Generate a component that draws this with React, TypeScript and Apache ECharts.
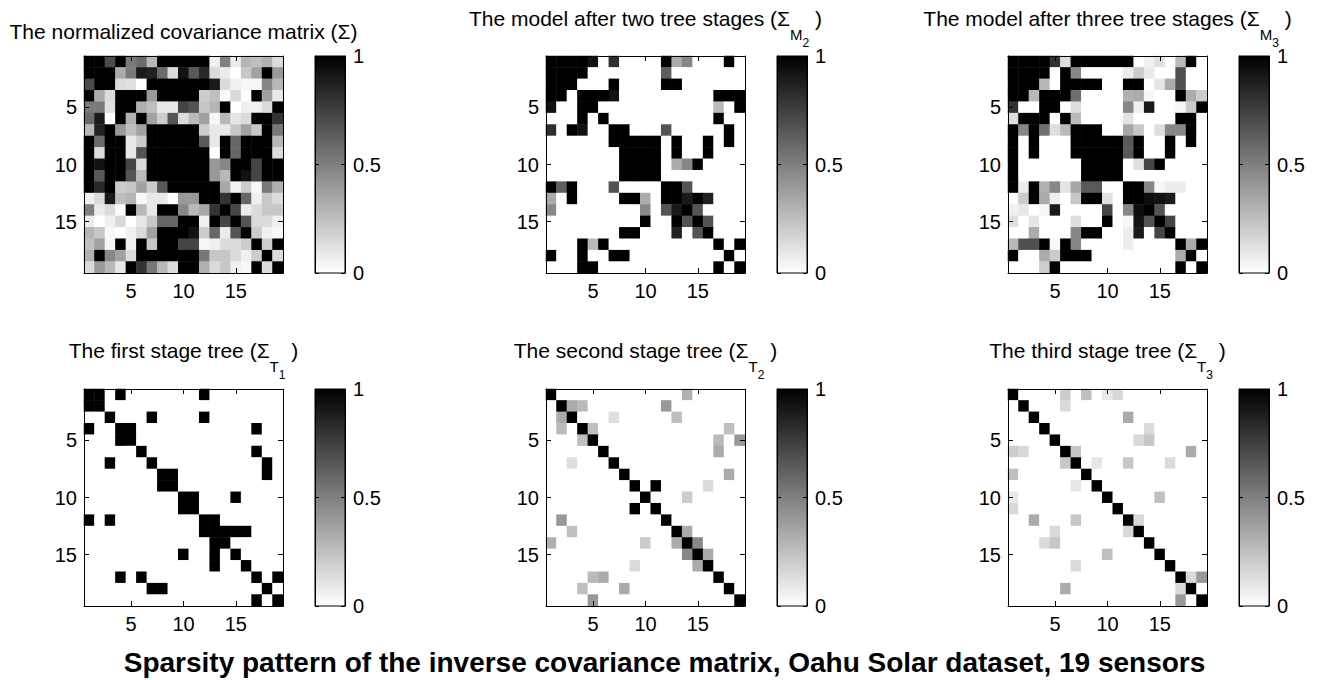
import React, { useEffect, useRef } from "react";
import * as echarts from "echarts";

// ---------- data ----------
const sensors = ["1","2","3","4","5","6","7","8","9","10","11","12","13","14","15","16","17","18","19"];
const tickLabels = ["5", "10", "15"];
const colorbarMin = 0;
const colorbarMax = 1;
const colorbarStep = 0.5;

// normalized covariance matrix
const sigma = [
  [1, 1, .71, 1, .52, .58, .28, 1, 1, 1, 1, 1, .06, .5, .08, .29, .25, .31, .14],
  [1, 1, 1, .33, .52, .9, .87, .58, .14, .93, .65, .84, .14, .08, 0, .22, .37, 1, .4],
  [.71, 1, 1, .14, .12, 0, 1, 1, 1, 1, 1, 1, .9, .14, .06, .03, .03, .47, .28],
  [1, .33, .14, 1, 1, 1, .4, 1, 1, 1, 1, .2, .25, .02, .15, 0, 1, .37, .09],
  [.52, .52, .12, 1, 1, .31, .25, .09, .09, .73, .67, .22, .29, 1, 0, .06, .06, .14, 1],
  [.58, .9, 0, 1, .31, 1, .37, .2, .67, .14, .27, .37, .03, .28, .1, .14, 1, 1, .8],
  [.28, .87, 1, .4, .25, .37, 1, 1, 1, 1, 1, .2, .09, .09, .22, .37, .22, 1, .53],
  [1, .58, 1, 1, .09, .2, 1, 1, 1, 1, 1, .65, .09, 1, .6, 1, 1, 1, .28],
  [1, .14, 1, 1, .09, .67, 1, 1, 1, 1, 1, 1, 0, 1, .6, 1, 1, 1, .14],
  [1, .93, 1, 1, .73, .14, 1, 1, 1, 1, 1, 1, .4, .47, 1, 1, .73, 1, 1],
  [1, .65, 1, 1, .67, .27, 1, 1, 1, 1, 1, 1, .4, .28, 1, .93, .73, 1, 1],
  [1, .84, 1, .2, .22, .37, .2, .65, 1, 1, 1, 1, 1, .34, .06, .2, .03, .53, .31],
  [.06, .14, .9, .25, .29, .03, .09, .09, 0, .4, .4, 1, 1, .8, 1, .6, .06, .22, .14],
  [.5, .08, .14, .02, 1, .28, .09, 1, 1, .47, .28, .34, .8, 1, .73, .08, .14, .22, .22],
  [.08, 0, .06, .15, 0, .1, .22, .6, .6, 1, 1, .06, 1, .73, 1, .67, .14, .14, .06],
  [.29, .22, .03, 0, .06, .14, .37, 1, 1, 1, .93, .2, .6, .08, .67, 1, .2, .06, .03],
  [.25, .37, .03, 1, .06, 1, .22, 1, 1, .73, .73, .03, .06, .14, .14, .2, 1, .2, 1],
  [.31, 1, .47, .37, .14, 1, 1, 1, 1, 1, 1, .53, .22, .22, .14, .06, .2, 1, .14],
  [.14, .4, .28, .09, 1, .8, .53, .28, .14, 1, 1, .31, .14, .22, .06, .03, 1, .14, 1],
];

// model after two tree stages
const sigmaM2 = [
  [1,1,1,1,.93,0,.82,0,0,0,0,1,.33,.47,0,0,0,1,0],
  [1,1,1,1,0,0,0,0,0,0,0,.63,0,0,0,0,0,0,0],
  [1,1,1,0,0,0,1,0,0,0,0,1,1,0,0,0,0,0,0],
  [1,1,0,1,1,1,.93,0,0,0,0,0,0,0,0,0,1,1,1],
  [.93,0,0,1,1,0,0,0,0,0,0,0,0,0,0,0,.27,0,1],
  [0,0,0,1,0,1,0,0,0,0,0,0,0,0,0,0,1,0,0],
  [.82,0,1,.93,0,0,1,1,0,0,0,.67,0,0,0,0,0,1,0],
  [0,0,0,0,0,0,1,1,1,1,1,0,1,0,0,1,0,1,0],
  [0,0,0,0,0,0,0,1,1,1,1,0,1,0,0,1,0,0,0],
  [0,0,0,0,0,0,0,1,1,1,1,0,.33,.47,1,0,0,0,0],
  [0,0,0,0,0,0,0,1,1,1,1,0,0,0,0,0,0,0,0],
  [1,.63,1,0,0,0,.67,0,0,0,0,1,1,.67,0,0,0,0,0],
  [.33,0,1,0,0,0,0,1,1,.33,0,1,1,.9,1,.87,0,0,0],
  [.47,0,0,0,0,0,0,0,0,.47,0,.67,.9,1,.67,0,0,0,0],
  [0,0,0,0,0,0,0,0,0,1,0,0,1,.67,1,.67,0,0,0],
  [0,0,0,0,0,0,0,1,1,0,0,0,.87,0,.67,1,0,0,0],
  [0,0,0,1,.27,1,0,0,0,0,0,0,0,0,0,0,1,0,1],
  [1,0,0,1,0,0,1,1,0,0,0,0,0,0,0,0,0,1,0],
  [0,0,0,1,1,0,0,0,0,0,0,0,0,0,0,0,1,0,1],
];

// model after three tree stages
const sigmaM3 = [
  [1,1,1,1,.8,.13,1,1,1,1,1,1,0,.06,.12,0,.28,1,0],
  [1,1,1,1,0,1,.47,0,0,0,0,.07,.2,.09,0,0,.69,0,0],
  [1,1,1,.28,0,1,1,1,1,0,0,1,1,0,.1,.33,.69,0,0],
  [1,1,.28,1,1,1,.56,0,0,0,0,.31,.33,.03,0,0,1,.33,.2],
  [.8,0,0,1,1,0,.13,0,0,0,0,.47,.06,.9,0,0,.03,.2,1],
  [.13,1,1,1,0,1,.27,0,0,0,0,.11,0,0,0,0,1,1,0],
  [1,.47,1,.56,.13,.27,1,1,1,0,0,.35,.22,0,.13,.47,.47,1,0],
  [1,0,1,0,0,0,1,1,1,1,1,.65,1,0,0,1,0,1,0],
  [1,0,1,0,0,0,1,1,1,1,1,.65,1,0,0,1,0,0,0],
  [1,0,0,0,0,0,0,1,1,1,1,0,.12,.73,1,0,0,0,0],
  [1,0,0,0,0,0,0,1,1,1,1,0,0,0,0,0,0,0,0],
  [1,.07,1,.31,.47,.11,.35,.65,.65,0,0,1,1,.47,.03,.07,.07,0,0],
  [0,.2,1,.33,.06,0,.22,1,1,.12,0,1,1,.95,.93,.9,0,0,0],
  [.06,.09,0,.03,.9,0,0,0,0,.73,0,.47,.95,1,.67,0,0,0,0],
  [.12,0,.1,0,0,0,.13,0,0,1,0,.03,.93,.67,1,.73,0,0,0],
  [0,0,.33,0,0,0,.47,1,1,0,0,.07,.9,0,.73,1,0,0,0],
  [.28,.69,.69,1,.03,1,.47,0,0,0,0,.07,0,0,0,0,1,.33,1],
  [1,0,0,.33,.2,1,1,1,0,0,0,0,0,0,0,0,.33,1,0],
  [0,0,0,.2,1,0,0,0,0,0,0,0,0,0,0,0,1,0,1],
];

// first stage tree
const sigmaT1 = [
  [1,1,0,1,0,0,0,0,0,0,0,1,0,0,0,0,0,0,0],
  [1,1,0,0,0,0,0,0,0,0,0,0,0,0,0,0,0,0,0],
  [0,0,1,0,0,0,1,0,0,0,0,1,0,0,0,0,0,0,0],
  [1,0,0,1,1,0,0,0,0,0,0,0,0,0,0,0,1,0,0],
  [0,0,0,1,1,0,0,0,0,0,0,0,0,0,0,0,0,0,0],
  [0,0,0,0,0,1,0,0,0,0,0,0,0,0,0,0,1,0,0],
  [0,0,1,0,0,0,1,0,0,0,0,0,0,0,0,0,0,1,0],
  [0,0,0,0,0,0,0,1,1,0,0,0,0,0,0,0,0,1,0],
  [0,0,0,0,0,0,0,1,1,0,0,0,0,0,0,0,0,0,0],
  [0,0,0,0,0,0,0,0,0,1,1,0,0,0,1,0,0,0,0],
  [0,0,0,0,0,0,0,0,0,1,1,0,0,0,0,0,0,0,0],
  [1,0,1,0,0,0,0,0,0,0,0,1,1,0,0,0,0,0,0],
  [0,0,0,0,0,0,0,0,0,0,0,1,1,1,1,1,0,0,0],
  [0,0,0,0,0,0,0,0,0,0,0,0,1,1,0,0,0,0,0],
  [0,0,0,0,0,0,0,0,0,1,0,0,1,0,1,0,0,0,0],
  [0,0,0,0,0,0,0,0,0,0,0,0,1,0,0,1,0,0,0],
  [0,0,0,1,0,1,0,0,0,0,0,0,0,0,0,0,1,0,1],
  [0,0,0,0,0,0,1,1,0,0,0,0,0,0,0,0,0,1,0],
  [0,0,0,0,0,0,0,0,0,0,0,0,0,0,0,0,1,0,1],
];

// second stage tree
const sigmaT2 = [
  [1,0,0,0,0,0,0,0,0,0,0,0,0,.31,0,0,0,0,0],
  [0,1,.33,.27,0,0,0,0,0,0,0,.4,0,0,0,0,0,0,0],
  [0,.33,1,0,0,0,.13,0,0,0,0,0,.25,0,0,0,0,0,0],
  [0,.27,0,1,.25,0,0,0,0,0,0,0,0,0,0,0,0,.25,0],
  [0,0,0,.25,1,0,0,0,0,0,0,0,0,0,0,0,.27,0,.4],
  [0,0,0,0,0,1,0,0,0,0,0,0,0,0,0,0,.33,0,0],
  [0,0,.13,0,0,0,1,0,0,0,0,0,0,0,0,0,0,0,0],
  [0,0,0,0,0,0,0,1,0,0,0,0,0,0,0,0,0,.33,0],
  [0,0,0,0,0,0,0,0,1,0,1,0,0,0,0,.14,0,0,0],
  [0,0,0,0,0,0,0,0,0,1,0,0,0,.2,0,0,0,0,0],
  [0,0,0,0,0,0,0,0,1,0,1,0,0,0,0,0,0,0,0],
  [0,.4,0,0,0,0,0,0,0,0,0,1,0,0,0,0,0,0,0],
  [0,0,.25,0,0,0,0,0,0,0,0,0,1,.33,0,0,0,0,0],
  [.31,0,0,0,0,0,0,0,0,.2,0,0,.33,1,.47,0,0,0,0],
  [0,0,0,0,0,0,0,0,0,0,0,0,0,.47,1,.33,0,0,0],
  [0,0,0,0,0,0,0,0,.14,0,0,0,0,0,.33,1,0,0,0],
  [0,0,0,0,.27,.33,0,0,0,0,0,0,0,0,0,0,1,0,0],
  [0,0,0,.25,0,0,0,.33,0,0,0,0,0,0,0,0,0,1,0],
  [0,0,0,0,.4,0,0,0,0,0,0,0,0,0,0,0,0,0,1],
];

// third stage tree
const sigmaT3 = [
  [1,0,0,0,0,.2,0,.25,0,.09,.15,0,0,0,0,0,0,0,0],
  [0,1,0,0,0,.15,0,0,0,0,0,0,0,0,0,0,0,0,0],
  [0,0,1,0,0,0,0,0,0,0,0,.33,0,0,0,0,0,0,0],
  [0,0,0,1,0,0,0,0,0,0,0,0,0,.14,0,0,0,0,0],
  [0,0,0,0,1,0,0,0,0,0,0,0,.15,.22,0,0,0,0,0],
  [.2,.15,0,0,0,1,.22,0,0,0,0,0,0,0,0,0,0,.33,0],
  [0,0,0,0,0,.22,1,0,.1,0,0,.22,0,0,0,.14,0,0,0],
  [.25,0,0,0,0,0,0,1,0,0,0,0,0,0,0,0,0,0,0],
  [0,0,0,0,0,0,.1,0,1,0,0,0,0,0,0,0,0,0,0],
  [.09,0,0,0,0,0,0,0,0,1,0,0,0,0,.25,0,0,0,0],
  [.15,0,0,0,0,0,0,0,0,0,1,0,0,0,0,0,0,0,0],
  [0,0,.33,0,0,0,.22,0,0,0,0,1,.15,0,0,0,0,0,0],
  [0,0,0,0,.15,0,0,0,0,0,0,.15,1,0,0,0,0,0,0],
  [0,0,0,.14,.22,0,0,0,0,0,0,0,0,1,0,0,0,0,0],
  [0,0,0,0,0,0,0,0,0,.25,0,0,0,0,1,0,0,0,0],
  [0,0,0,0,0,0,.14,0,0,0,0,0,0,0,0,1,0,0,0],
  [0,0,0,0,0,0,0,0,0,0,0,0,0,0,0,0,1,.15,.4],
  [0,0,0,0,0,.33,0,0,0,0,0,0,0,0,0,0,.15,1,0],
  [0,0,0,0,0,0,0,0,0,0,0,0,0,0,0,0,.4,0,1],
];

const panelMatrices = [sigma, sigmaM2, sigmaM3, sigmaT1, sigmaT2, sigmaT3];

const panelTitles = [
  { main: "The normalized covariance matrix (\u03A3)", sub: "", subsub: "", close: "" },
  { main: "The model after two tree stages (\u03A3", sub: "M", subsub: "2", close: " )" },
  { main: "The model after three tree stages (\u03A3", sub: "M", subsub: "3", close: " )" },
  { main: "The first stage tree (\u03A3", sub: "T", subsub: "1", close: " )" },
  { main: "The second stage tree (\u03A3", sub: "T", subsub: "2", close: " )" },
  { main: "The third stage tree (\u03A3", sub: "T", subsub: "3", close: " )" },
];

const suptitleText = "Sparsity pattern of the inverse covariance matrix, Oahu Solar dataset, 19 sensors";

// ---------- layout / style ----------
const W = 1329;
const H = 680;
const FONT = "'Liberation Sans', Arial, Helvetica, sans-serif";
const TICK_FS = 20;
const TITLE_FS = 21;
const SUP_FS = 28;
const colLefts = [84, 546, 1008];
const rowTops = [56, 389];
const GW = 199;
const GH = 217;
const CB_GAP = 32;
const CB_W = 30;

let measureCtx: CanvasRenderingContext2D | null = null;
function measure(text: string, size: number, weight = "normal") {
  if (!measureCtx) measureCtx = document.createElement("canvas").getContext("2d");
  measureCtx!.font = `${weight} ${size}px ${FONT}`;
  return measureCtx!.measureText(text).width;
}

function textEl(text: string, x: number, yBase: number, size: number, weight = "normal", align = "left") {
  return {
    type: "text",
    silent: true,
    x,
    y: yBase - 0.33 * size,
    style: {
      text,
      fill: "#000",
      fontSize: size,
      fontFamily: FONT,
      fontWeight: weight,
      align,
      verticalAlign: "middle",
      textAlign: align,
      textVerticalAlign: "middle",
    },
  };
}

function titleEls(t: any, cx: number, yb: number) {
  const F = TITLE_FS;
  const parts = [
    { text: t.main, size: F, dy: 0 },
    { text: t.sub, size: Math.round(F * 0.72), dy: 0.68 * F },
    { text: t.subsub, size: Math.round(F * 0.58), dy: 1.05 * F },
    { text: t.close, size: F, dy: 0 },
  ].filter((p) => p.text);
  const widths = parts.map((p) => measure(p.text, p.size));
  const total = widths.reduce((a, b) => a + b, 0);
  let x = cx - total / 2;
  return parts.map((p, i) => {
    const el = textEl(p.text, x, yb + p.dy, p.size);
    x += widths[i];
    return el;
  });
}

const tickSel = (_i: number, v: string) => tickLabels.includes(v);

function buildOption() {
  const grid: any[] = [];
  const xAxis: any[] = [];
  const yAxis: any[] = [];
  const series: any[] = [];
  const graphic: any[] = [];
  const blackLine = { show: true, onZero: false, lineStyle: { color: "#000", width: 1 } };

  panelMatrices.forEach((m, p) => {
    const left = colLefts[p % 3];
    const top = rowTops[Math.floor(p / 3)];
    grid.push({ left, top, width: GW, height: GH, containLabel: false });
  });
  panelMatrices.forEach((m, p) => {
    const left = colLefts[p % 3] + GW + CB_GAP;
    const top = rowTops[Math.floor(p / 3)];
    grid.push({
      left, top, width: CB_W, height: GH, containLabel: false, show: true,
      borderColor: "#000", borderWidth: 1,
      backgroundColor: new echarts.graphic.LinearGradient(0, 0, 0, 1, [
        { offset: 0, color: "#000000" },
        { offset: 1, color: "#ffffff" },
      ]),
    });
  });

  panelMatrices.forEach((m, p) => {
    const tick = { show: true, inside: true, length: 5, alignWithLabel: true, interval: tickSel, lineStyle: { color: "#000", width: 1 } };
    const lab = { show: true, interval: tickSel, color: "#000", fontSize: TICK_FS, fontFamily: FONT, margin: 8 };
    xAxis.push({ type: "category", gridIndex: p, data: sensors, position: "bottom", axisLine: blackLine, axisTick: tick, axisLabel: lab, splitLine: { show: false }, z: 5 });
    xAxis.push({ type: "category", gridIndex: p, data: sensors, position: "top", axisLine: blackLine, axisTick: tick, axisLabel: { show: false }, splitLine: { show: false }, z: 5 });
    yAxis.push({ type: "category", gridIndex: p, data: sensors, inverse: true, position: "left", axisLine: blackLine, axisTick: tick, axisLabel: { ...lab, margin: 7 }, splitLine: { show: false }, z: 5 });
    yAxis.push({ type: "category", gridIndex: p, data: sensors, inverse: true, position: "right", axisLine: blackLine, axisTick: tick, axisLabel: { show: false }, splitLine: { show: false }, z: 5 });
    series.push({
      type: "heatmap",
      xAxisIndex: 2 * p,
      yAxisIndex: 2 * p,
      data: m.flatMap((row, r) => row.map((v, c) => [c, r, v])),
      itemStyle: { borderWidth: 0 },
      emphasis: { disabled: true },
      progressive: 0,
      silent: true,
    });
  });

  panelMatrices.forEach((m, p) => {
    const gi = 6 + p;
    xAxis.push({ type: "value", gridIndex: gi, min: 0, max: 1, show: false });
    const cbTick = { show: true, inside: true, length: 4, lineStyle: { color: "#000", width: 1 } };
    yAxis.push({
      type: "value", gridIndex: gi, min: colorbarMin, max: colorbarMax, interval: colorbarStep, position: "right",
      axisLine: blackLine, axisTick: cbTick,
      axisLabel: { color: "#000", fontSize: TICK_FS, fontFamily: FONT, margin: 8 },
      splitLine: { show: false }, z: 5,
    });
    yAxis.push({
      type: "value", gridIndex: gi, min: colorbarMin, max: colorbarMax, interval: colorbarStep, position: "left",
      axisLine: blackLine, axisTick: cbTick, axisLabel: { show: false },
      splitLine: { show: false }, z: 5,
    });
  });

  panelTitles.forEach((t, p) => {
    const cx = colLefts[p % 3] + GW / 2;
    const top = rowTops[Math.floor(p / 3)];
    let yb;
    if (p === 0) yb = top - 18;
    else if (p < 3) yb = top - 31;
    else yb = top - 32;
    graphic.push(...titleEls(t, cx, yb));
  });

  graphic.push(textEl(suptitleText, W / 2, 672, SUP_FS, "bold", "center"));

  return {
    animation: false,
    backgroundColor: "#ffffff",
    grid,
    xAxis,
    yAxis,
    visualMap: [{
      type: "continuous",
      min: colorbarMin,
      max: colorbarMax,
      dimension: 2,
      seriesIndex: [0, 1, 2, 3, 4, 5],
      inRange: { color: ["#ffffff", "#000000"] },
      show: false,
    }],
    series,
    graphic,
  };
}

export default function App() {
  const ref = useRef<HTMLDivElement>(null);
  useEffect(() => {
    if (!ref.current) return;
    const chart = echarts.init(ref.current, null, { renderer: "svg" });
    chart.setOption(buildOption() as any);
    return () => chart.dispose();
  }, []);
  return (
    <div
      ref={ref}
      style={{ position: "fixed", left: 0, top: 0, width: W, height: H, background: "#fff" }}
    />
  );
}
